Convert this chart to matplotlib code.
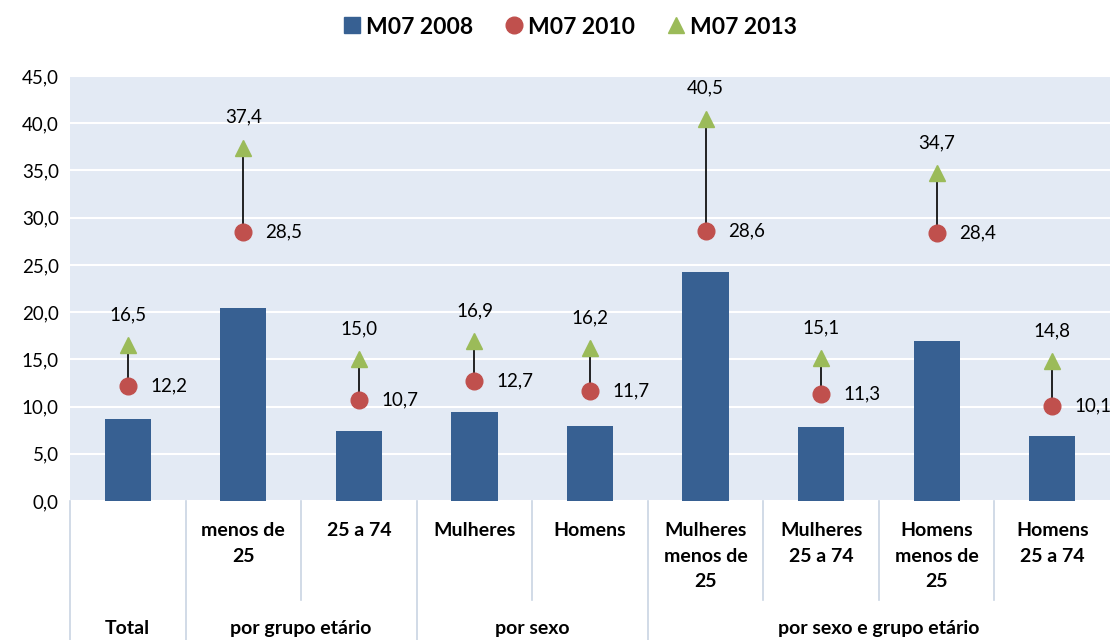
import matplotlib
matplotlib.use("Agg")
import matplotlib.pyplot as plt
from matplotlib.lines import Line2D
from matplotlib.transforms import blended_transform_factory

plt.rcParams['font.family'] = ['Lato', 'DejaVu Sans']

categories = ["", "menos de\n25", "25 a 74", "Mulheres", "Homens",
              "Mulheres\nmenos de\n25", "Mulheres\n25 a 74", "Homens\nmenos de\n25", "Homens\n25 a 74"]
groups = ["Total", "por grupo etário", "por sexo", "por sexo e grupo etário"]
group_spans = [(0, 0), (1, 2), (3, 4), (5, 8)]
m2008 = [8.7, 20.4, 7.4, 9.4, 7.9, 24.2, 7.8, 16.9, 6.9]
m2010 = [12.2, 28.5, 10.7, 12.7, 11.7, 28.6, 11.3, 28.4, 10.1]
m2013 = [16.5, 37.4, 15.0, 16.9, 16.2, 40.5, 15.1, 34.7, 14.8]
series_names = ["M07 2008", "M07 2010", "M07 2013"]
yticks = [0, 5, 10, 15, 20, 25, 30, 35, 40, 45]

c_bar = "#376092"
c_circ = "#C0504D"
c_tri = "#9BBB59"
bg = "#E3EAF4"
sep = "#C9D4E3"

fig = plt.figure(figsize=(11.15, 6.4), dpi=100)
ax = fig.add_axes([70/1115, 1-501/640, 1040/1115, 425/640])
ax.set_facecolor(bg)
x = list(range(len(categories)))

ax.bar(x, m2008, width=0.4, color=c_bar, zorder=2)
for xi, a, b in zip(x, m2010, m2013):
    ax.plot([xi, xi], [a, b], color="black", lw=1.2, zorder=3)
ax.plot(x, m2010, 'o', color=c_circ, ms=12, zorder=4, ls='none')
ax.plot(x, m2013, '^', color=c_tri, ms=12, zorder=4, ls='none')

def fmt(v):
    return f"{v:.1f}".replace(".", ",")

for xi, a, b in zip(x, m2010, m2013):
    ax.annotate(fmt(a), (xi, a), xytext=(16, 0), textcoords='offset points',
                ha='left', va='center', fontsize=13.5, zorder=5)
    ax.annotate(fmt(b), (xi, b), xytext=(0, 22), textcoords='offset points',
                ha='center', va='center', fontsize=13.5, zorder=5)

ax.set_xlim(-0.5, len(categories) - 0.5)
ax.set_ylim(0, 45)
ax.set_yticks(yticks)
ax.set_yticklabels([fmt(v) for v in yticks], fontsize=13.5)
ax.yaxis.grid(True, color="white", lw=1.5, zorder=1)
ax.set_axisbelow(True)
ax.tick_params(axis='y', length=0, pad=8)
ax.set_xticks([])
for s in ax.spines.values():
    s.set_visible(False)

tr = blended_transform_factory(ax.transData, ax.transAxes)
# category labels
for xi, lab in zip(x, categories):
    ax.text(xi, -0.05, lab, transform=tr, ha='center', va='top',
            fontsize=14, fontweight='bold', linespacing=1.6)
# group labels
for g, (s0, s1) in zip(groups, group_spans):
    ax.text((s0 + s1) / 2, -0.30, g, transform=tr, ha='center', va='center',
            fontsize=14, fontweight='bold')
# separators
group_bounds = set([-0.5] + [s1 + 0.5 for (_, s1) in group_spans])
for b in [i - 0.5 for i in range(len(categories))]:
    y0 = -0.33 if b in group_bounds else -0.233
    ax.plot([b, b], [0, y0], transform=tr, color=sep, lw=1.2, clip_on=False)

handles = [Line2D([], [], marker='s', color=c_bar, ls='none', ms=11),
           Line2D([], [], marker='o', color=c_circ, ls='none', ms=12),
           Line2D([], [], marker='^', color=c_tri, ls='none', ms=12)]
fig.legend(handles, series_names, loc='center', bbox_to_anchor=(569/1115, 1-27/640),
           ncol=3, frameon=False, prop={'weight': 'bold', 'size': 16.5},
           handletextpad=0.1, columnspacing=1.3, handlelength=1.0)

fig.savefig("out.png", dpi=100)
